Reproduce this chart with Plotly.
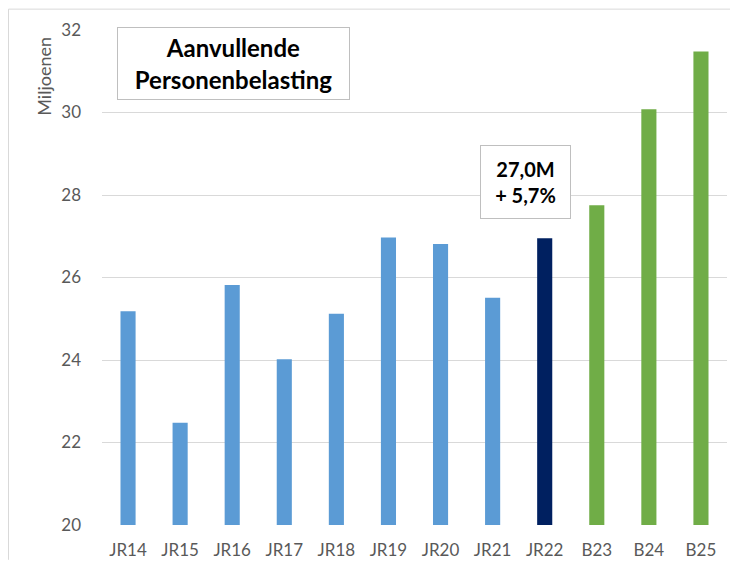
import plotly.graph_objects as go

categories = ["JR14", "JR15", "JR16", "JR17", "JR18", "JR19", "JR20", "JR21", "JR22", "B23", "B24", "B25"]
values = [25.18, 22.48, 25.82, 24.02, 25.12, 26.97, 26.81, 25.51, 26.95, 27.75, 30.08, 31.48]
bar_colors = ["#5B9BD5"] * 8 + ["#002060"] + ["#70AD47"] * 3
y_ticks = [20, 22, 24, 26, 28, 30, 32]

title_text = "Aanvullende<br>Personenbelasting"
callout_text = "27,0M<br>+ 5,7%"
y_title = "Miljoenen"

FONT = "Lato, 'Open Sans', sans-serif"
GRAY = "#595959"

OFF = 8  # page body margin
W, H = 738 - 2 * OFF, 571 - 2 * OFF
L, R, T, B = 94, 3, 22, 35
pw, ph = W - L - R, H - T - B

def px(x):  # screen x -> paper
    return (x - OFF - L) / pw

def py(y):  # screen y -> paper
    return (H - B - (y - OFF)) / ph

fig = go.Figure()
fig.add_trace(go.Bar(
    x=categories, y=values, marker=dict(color=bar_colors, line=dict(width=0)),
    width=0.29, hoverinfo="x+y",
))

fig.update_layout(
    width=W, height=H,
    margin=dict(l=L, r=R, t=T, b=B),
    paper_bgcolor="white", plot_bgcolor="white",
    showlegend=False,
    font=dict(family=FONT, color=GRAY, size=15),
    xaxis=dict(
        showgrid=False, zeroline=False, showline=False, ticks="",
        tickfont=dict(size=17, color=GRAY, family=FONT),
        ticklabelstandoff=13,
    ),
    yaxis=dict(
        range=[20, 32], tickvals=y_ticks, showgrid=True, gridcolor="#D9D9D9", gridwidth=1,
        zeroline=False, showline=False, ticks="",
        tickfont=dict(size=17, color=GRAY, family=FONT),
        ticklabelstandoff=20,
    ),
    shapes=[
        dict(type="line", xref="paper", yref="paper", x0=px(8.5), x1=px(730), y0=py(9), y1=py(9),
             line=dict(color="#D9D9D9", width=1)),
        dict(type="line", xref="paper", yref="paper", x0=px(8.5), x1=px(8.5), y0=py(9), y1=py(563),
             line=dict(color="#D9D9D9", width=1)),
    ],
    annotations=[
        dict(text=title_text, xref="paper", yref="paper", x=px(233.5), y=py(63.5),
             xanchor="center", yanchor="middle", showarrow=False,
             font=dict(family=FONT, size=24, color="#000000", weight="bold"),
             bgcolor="white", bordercolor="#BFBFBF", borderwidth=1, borderpad=0,
             width=231, height=71, align="center"),
        dict(text=callout_text, xref="paper", yref="paper", x=px(525.5), y=py(183),
             xanchor="center", yanchor="middle", showarrow=False,
             font=dict(family=FONT, size=20, color="#000000", weight="bold"),
             bgcolor="white", bordercolor="#BFBFBF", borderwidth=1, borderpad=0,
             width=89, height=72, align="center"),
        dict(text=y_title, xref="paper", yref="paper", x=px(44), y=py(77),
             xanchor="center", yanchor="middle", showarrow=False, textangle=-90,
             font=dict(family=FONT, size=18, color=GRAY)),
    ],
)

fig.write_html("out.html")
